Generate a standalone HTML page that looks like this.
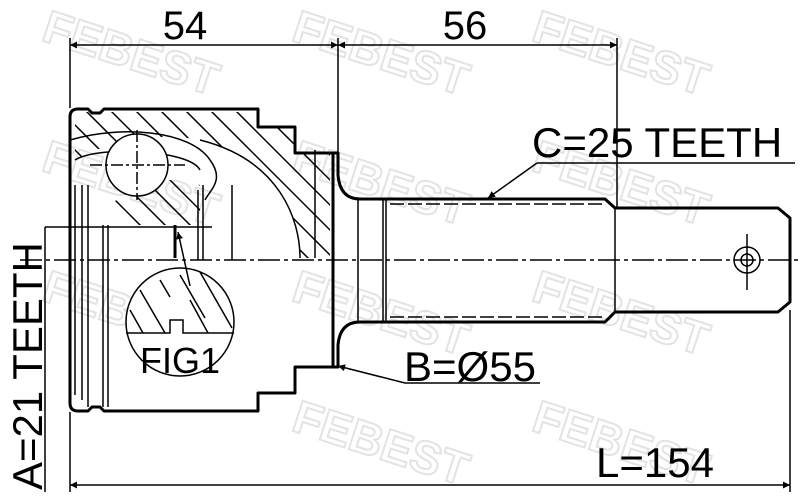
<!DOCTYPE html>
<html><head><meta charset="utf-8"><style>
html,body{margin:0;padding:0;background:#fff;}
svg{display:block;}
text{font-family:"Liberation Sans",sans-serif;fill:#000;}
text.wm{fill:none;stroke:#e3e3e3;stroke-width:2;font-size:46px;font-weight:bold;}
</style></head><body>
<svg width="800" height="500" viewBox="0 0 800 500" xmlns="http://www.w3.org/2000/svg">
<defs>
<marker id="ar" viewBox="0 0 10 10" refX="10" refY="5" markerWidth="12" markerHeight="7" orient="auto-start-reverse" markerUnits="userSpaceOnUse"><path d="M0,0 L10,5 L0,10 z" fill="#000"/></marker>
<clipPath id="hat"><path d="M75,112 L258,112 L258,127 L295,127 L295,153 L330,153 L330,258 L300,258 C300,220 280,160 200,140 C160,132 110,140 75,160 Z"/></clipPath>
<clipPath id="hat2"><path d="M100,225 C110,190 160,170 200,185 L200,225 Z"/></clipPath>
</defs>
<text class="wm" x="40" y="40" transform="rotate(18 40 40)">FEBEST</text>
<text class="wm" x="290" y="40" transform="rotate(18 290 40)">FEBEST</text>
<text class="wm" x="530" y="40" transform="rotate(18 530 40)">FEBEST</text>
<text class="wm" x="40" y="170" transform="rotate(18 40 170)">FEBEST</text>
<text class="wm" x="290" y="170" transform="rotate(18 290 170)">FEBEST</text>
<text class="wm" x="530" y="170" transform="rotate(18 530 170)">FEBEST</text>
<text class="wm" x="40" y="300" transform="rotate(18 40 300)">FEBEST</text>
<text class="wm" x="290" y="300" transform="rotate(18 290 300)">FEBEST</text>
<text class="wm" x="530" y="300" transform="rotate(18 530 300)">FEBEST</text>
<text class="wm" x="290" y="430" transform="rotate(18 290 430)">FEBEST</text>
<text class="wm" x="530" y="430" transform="rotate(18 530 430)">FEBEST</text>
<g stroke="#000" stroke-width="1.5" fill="none">
<line x1="70" y1="38" x2="70" y2="108"/>
<line x1="338" y1="38" x2="338" y2="153"/>
<line x1="617" y1="38" x2="617" y2="120"/>
<line x1="70" y1="45" x2="338" y2="45" marker-start="url(#ar)" marker-end="url(#ar)"/>
<line x1="338" y1="45" x2="617" y2="45" marker-start="url(#ar)" marker-end="url(#ar)"/>
<line x1="70" y1="412" x2="70" y2="492"/>
<line x1="790" y1="310" x2="790" y2="492"/>
<line x1="70" y1="485" x2="790" y2="485" marker-start="url(#ar)" marker-end="url(#ar)"/>
<line x1="45" y1="227" x2="45" y2="492"/>
<line x1="45" y1="227" x2="212" y2="227"/>
<line x1="537" y1="163" x2="795" y2="163"/>
<line x1="537" y1="163" x2="488" y2="198" marker-end="url(#ar)"/>
<line x1="405" y1="383" x2="540" y2="383"/>
<line x1="405" y1="383" x2="338" y2="366" marker-end="url(#ar)"/>
<line x1="617" y1="120" x2="617" y2="207"/>
</g>
<text x="185" y="39" font-size="40" text-anchor="middle">54</text>
<text x="465" y="39" font-size="40" text-anchor="middle">56</text>
<text x="532" y="157" font-size="42">C=25 TEETH</text>
<text x="404" y="381" font-size="42">B=Ø55</text>
<text x="596" y="477" font-size="42">L=154</text>
<text x="42" y="490" font-size="42" transform="rotate(-90 42 490)">A=21 TEETH</text>
<g clip-path="url(#hat)" stroke="#000" stroke-width="1.5">
<line x1="60" y1="60" x2="330" y2="330"/><line x1="85" y1="60" x2="355" y2="330"/><line x1="110" y1="60" x2="380" y2="330"/><line x1="135" y1="60" x2="405" y2="330"/><line x1="160" y1="60" x2="430" y2="330"/><line x1="185" y1="60" x2="455" y2="330"/><line x1="210" y1="60" x2="480" y2="330"/><line x1="235" y1="60" x2="505" y2="330"/><line x1="260" y1="60" x2="530" y2="330"/><line x1="35" y1="60" x2="305" y2="330"/><line x1="10" y1="60" x2="280" y2="330"/><line x1="-15" y1="60" x2="255" y2="330"/><line x1="-40" y1="60" x2="230" y2="330"/><line x1="-65" y1="60" x2="205" y2="330"/>
</g>
<g clip-path="url(#hat2)" stroke="#000" stroke-width="1.5">
<line x1="80" y1="140" x2="200" y2="260"/><line x1="105" y1="140" x2="225" y2="260"/><line x1="130" y1="140" x2="250" y2="260"/><line x1="55" y1="140" x2="175" y2="260"/><line x1="155" y1="140" x2="275" y2="260"/>
</g>
<g stroke="#000" stroke-width="3" fill="none" stroke-linejoin="round">
<path d="M78,109 L88,109 L92,113 L100,113 L104,109 L258,109 L258,127 L295,127 L295,153 L333,153 L333,367 L295,367 L295,393 L258,393 L258,411 L104,411 L100,407 L92,407 L88,411 L78,411 Q70,411 70,403 L70,117 Q70,109 78,109 Z"/>
<path d="M333,153 L338,153 L338,175 Q340,199 360,199 L605,199 L615,208 L778,208 L790,218 L790,302 L778,312 L615,312 L605,322 L360,322 Q340,322 338,345 L338,367 L333,367"/>
</g>
<g stroke="#000" stroke-width="1.5" fill="none">
<path d="M70,140 C120,125 190,130 210,160 C225,180 210,190 205,200"/>
<path d="M75,160 C100,145 190,150 200,170"/>
<path d="M300,258 C300,220 280,160 200,140"/>
<line x1="315" y1="150" x2="315" y2="258"/>
<circle cx="137" cy="165" r="31" fill="#fff"/>
<line x1="137" y1="130" x2="137" y2="200" stroke-dasharray="12,3,3,3"/>
<line x1="90" y1="165" x2="185" y2="165" stroke-dasharray="12,3,3,3"/>
<line x1="75" y1="185" x2="75" y2="395"/>
<line x1="82" y1="185" x2="82" y2="400"/>
<line x1="88" y1="185" x2="88" y2="407"/>
<line x1="103" y1="225" x2="103" y2="407"/>
<line x1="108" y1="225" x2="108" y2="407"/>
<line x1="203" y1="185" x2="203" y2="260"/>
<line x1="198" y1="190" x2="198" y2="260"/>
<line x1="232" y1="185" x2="232" y2="260"/>
<line x1="358" y1="199" x2="358" y2="322"/>
<line x1="383" y1="199" x2="383" y2="322"/>
<line x1="386" y1="199" x2="386" y2="322"/>
<line x1="615" y1="208" x2="615" y2="312"/>
<line x1="390" y1="204" x2="605" y2="204" stroke-dasharray="14,4"/>
<line x1="390" y1="317" x2="605" y2="317" stroke-dasharray="14,4"/>
<line x1="20" y1="260" x2="800" y2="260" stroke-dasharray="22,4,4,4"/>
<circle cx="747" cy="260" r="13"/>
<circle cx="747" cy="260" r="6"/>
<line x1="747" y1="234" x2="747" y2="290"/>
<circle cx="180" cy="322" r="54" fill="#fff"/>
<path d="M126,333 L170,333 L170,320 L183,320 L183,333 L234,333"/>
<line x1="175" y1="225" x2="175" y2="258" stroke-width="3"/>
<line x1="190" y1="286" x2="178" y2="232" marker-end="url(#ar)"/>
</g>
<g stroke="#000" stroke-width="1.5">
<line x1="140" y1="290" x2="165" y2="333"/><line x1="160" y1="280" x2="170" y2="297"/><line x1="180" y1="275" x2="205" y2="318"/><line x1="200" y1="272" x2="232" y2="328"/><line x1="130" y1="310" x2="143" y2="333"/><line x1="190" y1="300" x2="208" y2="333"/>
</g>
<text x="180" y="373" font-size="36" text-anchor="middle">FIG1</text>
</svg>
</body></html>
